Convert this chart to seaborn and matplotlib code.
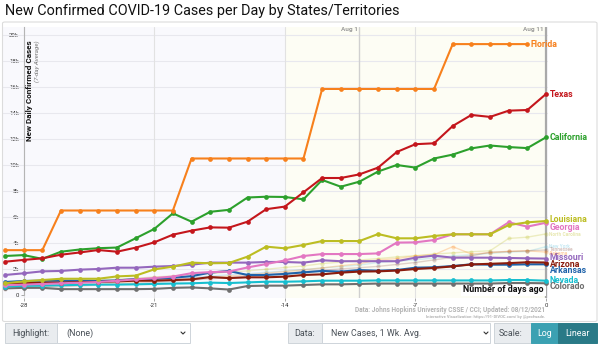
import numpy as np
import pandas as pd
import matplotlib
matplotlib.use("Agg")
import matplotlib.pyplot as plt
import seaborn as sns
from matplotlib.patches import Rectangle, FancyBboxPatch
from matplotlib.lines import Line2D

# ---------------- data (new cases, 7-day average) ----------------
days = list(range(-29, 1))
florida_days = list(range(-29, 0))
florida = [3450, 3450, 3450, 6500, 6500, 6500, 6500, 6500, 6500, 6500,
           10500, 10500, 10500, 10500, 10500, 10500, 10500,
           15850, 15850, 15850, 15850, 15850, 15850, 15850,
           19300, 19300, 19300, 19300, 19300]
texas = [2560, 2700, 2820, 3100, 3270, 3460, 3330, 3640, 4050, 4640,
         4950, 5200, 5180, 5640, 6600, 6800, 7900, 9000, 9000, 9280,
         9800, 11000, 11600, 11670, 13000, 13850, 13700, 14180, 14230, 15460]
california = [3000, 3070, 2780, 3330, 3500, 3600, 3650, 4360, 5080, 6280,
              5640, 6400, 6550, 7500, 7560, 7540, 7360, 8850, 8330, 8720,
              9500, 10000, 9800, 10500, 10800, 11280, 11500, 11380, 11300, 12130]
louisiana = [900, 1050, 1150, 1250, 1250, 1250, 1430, 1490, 1970, 2180,
             2490, 2440, 2460, 2950, 3720, 3590, 3850, 4150, 4150, 4150,
             4690, 4360, 4360, 4540, 4670, 4670, 4670, 5380, 5590, 5690]
georgia = [750, 800, 850, 900, 950, 1000, 1100, 1200, 1300, 1420,
           1680, 1760, 1800, 2120, 2380, 2660, 3000, 3150, 3150, 3150,
           3200, 4030, 4050, 4230, 4670, 4670, 4670, 5590, 5260, 5560]
missouri = [1540, 1670, 1820, 1850, 1950, 2000, 2100, 2100, 2180, 2230,
            2330, 2490, 2490, 2490, 2540, 2540, 2490, 2670, 2600, 2600,
            2600, 2600, 2870, 3030, 2870, 2870, 2870, 2850, 2820, 2800]
arizona = [850, 900, 950, 950, 1000, 1000, 1050, 1100, 1100, 1150,
           1200, 1380, 1300, 1360, 1360, 1410, 1540, 1590, 1720, 1800,
           1820, 1880, 2000, 2080, 2200, 2350, 2400, 2450, 2520, 2500]
arkansas = [1000, 1080, 1100, 1100, 1100, 1080, 1120, 1230, 1230, 1330,
            1450, 1720, 1850, 1540, 1540, 1620, 1740, 1850, 1800, 1920,
            1870, 1920, 2100, 2130, 2230, 2360, 2330, 2330, 2360, 2360]
nevada = [650, 700, 720, 750, 780, 800, 800, 820, 850, 880,
          900, 950, 920, 970, 1020, 1020, 1050, 1100, 1100, 1100,
          1120, 1120, 1120, 1120, 1120, 1120, 1120, 1150, 1150, 1100]
colorado = [510, 550, 550, 450, 450, 450, 450, 450, 470, 550,
            580, 510, 420, 690, 720, 720, 770, 820, 820, 850,
            880, 880, 880, 880, 880, 880, 880, 920, 920, 900]
north_carolina = [900, 940, 1010, 1040, 1120, 1150, 1230, 1280, 1390, 1460,
                  1580, 1640, 1770, 1850, 1980, 2120, 2230, 2420, 2530, 2690,
                  2800, 2930, 3020, 3150, 3240, 3330, 3400, 4350, 4450, 4700]
new_york = [700, 760, 800, 870, 920, 990, 1050, 1130, 1200, 1290,
            1380, 1450, 1560, 1640, 1750, 1850, 1960, 2080, 2190, 2300,
            2500, 2600, 2700, 2850, 3000, 3100, 3200, 3300, 3350, 3720]
tennessee = [500, 540, 590, 640, 700, 760, 820, 900, 980, 1060,
             1150, 1250, 1330, 1450, 1560, 1680, 1790, 1900, 2010, 2100,
             2200, 2350, 2500, 2700, 2900, 3000, 3300, 3350, 3400, 3460]
alabama = [600, 650, 690, 740, 800, 860, 930, 1000, 1080, 1160,
           1250, 1350, 1450, 1560, 1680, 1800, 1930, 2080, 2250, 2400,
           2700, 2800, 3000, 3100, 3720, 3150, 3250, 3350, 3400, 3300]

main_series = {
    "Florida": (florida_days, florida),
    "Texas": (days, texas),
    "California": (days, california),
    "Louisiana": (days, louisiana),
    "Georgia": (days, georgia),
    "Missouri": (days, missouri),
    "Arizona": (days, arizona),
    "Arkansas": (days, arkansas),
    "Nevada": (days, nevada),
    "Colorado": (days, colorado),
}
faded_series = {
    "North Carolina": (days, north_carolina),
    "New York": (days, new_york),
    "Tennessee": (days, tennessee),
    "Alabama": (days, alabama),
}

colors = {
    "Florida": "#f7801c", "Texas": "#c4161c", "California": "#2ca02c",
    "Louisiana": "#bcbd22", "Georgia": "#e377c2", "Missouri": "#9467bd",
    "Arizona": "#8a1c0c", "Arkansas": "#1f63aa", "Nevada": "#17becf",
    "Colorado": "#6f6f6f",
    "North Carolina": "#bcbd22", "New York": "#5fc0dc",
    "Tennessee": "#8c564b", "Alabama": "#ff7f0e",
}

# label layout (y position of end labels, in cases)
label_y = {
    "Florida": 19300, "Texas": 15460, "California": 12130, "Louisiana": 5770,
    "Georgia": 5230, "North Carolina": 4690, "New York": 3760,
    "Tennessee": 3500, "Alabama": 3230, "Missouri": 2850, "Arizona": 2320,
    "Arkansas": 1900, "Nevada": 1080, "Colorado": 620,
}

def to_long(series):
    rows = []
    for name, (xs, ys) in series.items():
        for x, y in zip(xs, ys):
            rows.append((name, x, y))
    return pd.DataFrame(rows, columns=["state", "day", "cases"])

df_main = to_long(main_series)
df_faded = to_long(faded_series)

# ---------------- figure ----------------
sns.set_theme(style="white")
plt.rcParams["font.family"] = ["Roboto", "DejaVu Sans"]

W, H = 600, 346
fig = plt.figure(figsize=(W / 100, H / 100), dpi=100)
fig.patch.set_facecolor("white")

def fx(px):
    return px / W

def fy(py):
    return 1 - py / H

ppd = (546 - 5) / 29.0
ppk = 13.0
ax_l, ax_r, ax_t, ax_b = 3, 548, 27, 298
ax = fig.add_axes([fx(ax_l), fy(ax_b), (ax_r - ax_l) / W, (ax_b - ax_t) / H])
ax.set_xlim(-29 - (5 - ax_l) / ppd, (ax_r - 546) / ppd)
ax.set_ylim(-(ax_b - 295) / ppk * 1000, (295 - ax_t) / ppk * 1000)
ax.set_facecolor("#f9f9fd")
ax.axvspan(-14, 0, color="#fdfdf4", zorder=0, lw=0)

for yv in range(2000, 20001, 2000):
    ax.axhline(yv, color="#e8e8ee", lw=0.8, zorder=1)
for xv in [-28, -21, -14, -7]:
    ax.axvline(xv, color="#e2e2e2", lw=0.8, zorder=1)
ax.axvline(-10, color="#d0d0d0", lw=1.0, zorder=1)
ax.axvline(0, color="#a9a9a9", lw=1.6, zorder=1)

# faded lines
sns.lineplot(data=df_faded, x="day", y="cases", hue="state", palette=colors,
             marker="o", markersize=3.0, markeredgewidth=0, linewidth=1.0,
             alpha=0.25, legend=False, ax=ax, sort=False, zorder=2)

ax.text(-0.12, (295 - 290) / ppk * 1000, "Number of days ago", ha="right",
        va="center", fontsize=6.4, fontweight="bold", color="#111111", zorder=2.5,
        bbox=dict(boxstyle="square,pad=0.2", fc="white", ec="none"))

# main lines (draw bottom ones first)
order = ["Colorado", "Nevada", "Arkansas", "Arizona", "Missouri", "Georgia",
         "Louisiana", "California", "Texas", "Florida"]
for name in order:
    sub = df_main[df_main.state == name]
    sns.lineplot(data=sub, x="day", y="cases", color=colors[name],
                 marker="o", markersize=3.4, markeredgewidth=0, linewidth=1.5,
                 legend=False, ax=ax, sort=False, zorder=3)

# end labels
for name, (xs, ys) in {**main_series, **faded_series}.items():
    faded = name in faded_series
    ax.annotate(name, xy=(xs[-1], label_y[name]), xytext=(2.5, 0),
                textcoords="offset points", va="center", ha="left",
                fontsize=3.5 if faded else 6.3, fontweight="bold",
                color=colors[name], alpha=0.35 if faded else 1.0,
                annotation_clip=False, zorder=5)

# axes styling
for s in ["top", "right", "bottom"]:
    ax.spines[s].set_visible(False)
ax.spines["left"].set_position(("data", -28))
ax.spines["left"].set_color("#b5b5b5")
ax.spines["left"].set_linewidth(0.8)
ax.spines["left"].set_bounds(0, 20600)
ax.set_yticks(list(range(0, 20001, 2000)))
ax.set_yticklabels(["0"] + [f"{v // 1000}k" for v in range(2000, 20001, 2000)])
ax.set_xticks([-28, -21, -14, -7, 0])
ax.set_xticklabels(["-28", "-21", "-14", "-7", "0"])
ax.tick_params(axis="y", length=2, width=0.6, color="#999999", pad=1.5,
               labelsize=4.3, labelcolor="#333333", left=True)
ax.tick_params(axis="x", length=2, width=0.6, color="#999999", pad=1.5,
               labelsize=4.3, labelcolor="#333333", bottom=True)
ax.set_xlabel("")
ax.set_ylabel("")

ax.text(-27.66, 19600, "New Daily Confirmed Cases", rotation=90, ha="center",
        va="top", fontsize=5.9, fontweight="bold", color="#111111", zorder=6)
ax.text(-27.28, 19600, "(7-day Average)", rotation=90, ha="center", va="top",
        fontsize=4.4, style="italic", color="#777777", zorder=6)
ax.text(-10.1, 20450, "Aug 1", ha="right", va="center", fontsize=4.6,
        color="#999999", fontweight="bold", zorder=6)
ax.text(-0.12, 20450, "Aug 11", ha="right", va="center", fontsize=4.6,
        color="#999999", fontweight="bold", zorder=6)

# title and credits
fig.text(fx(5), fy(11.5), "New Confirmed COVID-19 Cases per Day by States/Territories",
         fontsize=10.4, va="center", ha="left", color="#111111")
fig.text(fx(545), fy(310.5), "Data: Johns Hopkins University CSSE / CCI; Updated: 08/12/2021",
         ha="right", va="center", fontsize=4.7, color="#b3b3b3", fontweight="bold")
fig.text(fx(545), fy(316.8), "Interactive Visualization: https://91-DIVOC.com/ by @profwade.",
         ha="right", va="center", fontsize=3.0, color="#b3b3b3", fontweight="bold")

# outer panel frame
fig.patches.append(FancyBboxPatch((fx(2.5), fy(321.5)), fx(594.5), (321.5 - 22) / H,
                                  boxstyle="round,pad=0,rounding_size=0.004",
                                  transform=fig.transFigure, fc="none",
                                  ec="#dcdcdc", lw=0.8, zorder=0))

# control widgets
def box(x0, x1, y0, y1, fc, ec="#ced4da"):
    fig.patches.append(Rectangle((fx(x0), fy(y1)), (x1 - x0) / W, (y1 - y0) / H,
                                 transform=fig.transFigure, fc=fc, ec=ec, lw=0.7))

def chevron(xc, yc):
    fig.lines.append(Line2D([fx(xc - 2), fx(xc), fx(xc + 2)],
                            [fy(yc - 1), fy(yc + 1), fy(yc - 1)],
                            transform=fig.transFigure, color="#333333", lw=0.8))

wy0, wy1 = 323, 343
wc = (wy0 + wy1) / 2
box(5, 57, wy0, wy1, "#e9ecef")
box(57, 190, wy0, wy1, "white")
fig.text(fx(12), fy(wc), "Highlight:", va="center", fontsize=6.4, color="#495057")
fig.text(fx(66), fy(wc), "(None)", va="center", fontsize=6.4, color="#495057")
chevron(183, wc)

box(288, 322, wy0, wy1, "#e9ecef")
box(322, 490, wy0, wy1, "white")
fig.text(fx(294), fy(wc), "Data:", va="center", fontsize=6.4, color="#495057")
fig.text(fx(331), fy(wc), "New Cases, 1 Wk. Avg.", va="center", fontsize=6.4, color="#495057")
chevron(486, wc)

box(494, 531, wy0, wy1, "#e9ecef")
box(531, 558, wy0, wy1, "#3ba1b2", ec="#3ba1b2")
box(558, 597, wy0, wy1, "#2a7a87", ec="#2a7a87")
fig.text(fx(499), fy(wc), "Scale:", va="center", fontsize=6.4, color="#495057")
fig.text(fx(544.5), fy(wc), "Log", va="center", ha="center", fontsize=6.4, color="white")
fig.text(fx(577.5), fy(wc), "Linear", va="center", ha="center", fontsize=6.4, color="white")

fig.savefig("out.png", dpi=100)
